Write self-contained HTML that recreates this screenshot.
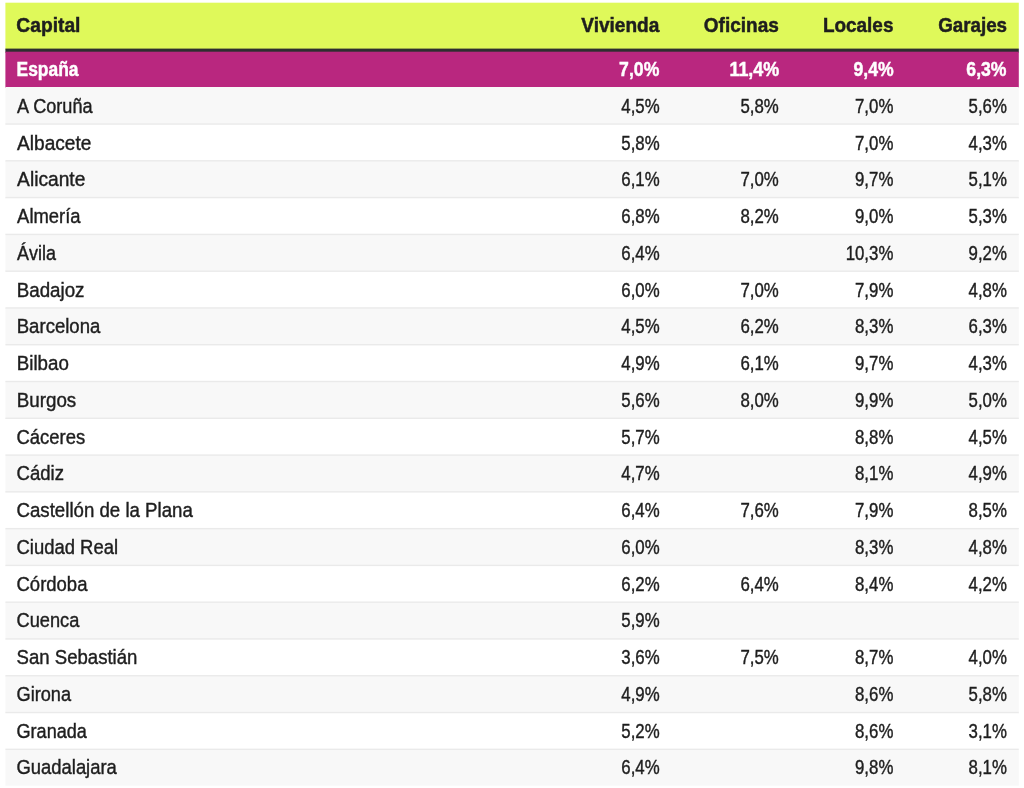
<!DOCTYPE html>
<html lang="es"><head><meta charset="utf-8"><title>Rentabilidad por capital</title>
<style>
html,body{margin:0;padding:0;background:#fff;}
body{width:1024px;height:788px;position:relative;overflow:hidden;font-family:"Liberation Sans",sans-serif;}
#w{position:absolute;left:0;top:0;width:1024px;height:788px;will-change:transform;}
.b{position:absolute;}
.t{position:absolute;white-space:nowrap;display:block;transform-origin:0 50%;line-height:24px;}
</style></head><body><div id="w">
<svg class="b" width="1024" height="788" viewBox="0 0 1024 788" style="left:0;top:0">
<rect x="5.4" y="2.70" width="1013.40" height="46.90" fill="#dff95a"/>
<rect x="5.4" y="48.60" width="1013.40" height="4.10" fill="#2e2e30"/>
<rect x="5.4" y="51.70" width="1013.40" height="36.30" fill="#b9277f"/>
<rect x="5.4" y="87.00" width="1013.40" height="38.25" fill="#f8f8f8"/>
<rect x="5.4" y="124.25" width="1013.40" height="37.78" fill="#ffffff"/>
<rect x="5.4" y="161.03" width="1013.40" height="37.78" fill="#f8f8f8"/>
<rect x="5.4" y="197.81" width="1013.40" height="37.78" fill="#ffffff"/>
<rect x="5.4" y="234.59" width="1013.40" height="37.78" fill="#f8f8f8"/>
<rect x="5.4" y="271.37" width="1013.40" height="37.78" fill="#ffffff"/>
<rect x="5.4" y="308.15" width="1013.40" height="37.78" fill="#f8f8f8"/>
<rect x="5.4" y="344.93" width="1013.40" height="37.78" fill="#ffffff"/>
<rect x="5.4" y="381.71" width="1013.40" height="37.78" fill="#f8f8f8"/>
<rect x="5.4" y="418.49" width="1013.40" height="37.78" fill="#ffffff"/>
<rect x="5.4" y="455.27" width="1013.40" height="37.78" fill="#f8f8f8"/>
<rect x="5.4" y="492.05" width="1013.40" height="37.78" fill="#ffffff"/>
<rect x="5.4" y="528.83" width="1013.40" height="37.78" fill="#f8f8f8"/>
<rect x="5.4" y="565.61" width="1013.40" height="37.78" fill="#ffffff"/>
<rect x="5.4" y="602.39" width="1013.40" height="37.78" fill="#f8f8f8"/>
<rect x="5.4" y="639.17" width="1013.40" height="37.78" fill="#ffffff"/>
<rect x="5.4" y="675.95" width="1013.40" height="37.78" fill="#f8f8f8"/>
<rect x="5.4" y="712.73" width="1013.40" height="37.78" fill="#ffffff"/>
<rect x="5.4" y="749.51" width="1013.40" height="36.19" fill="#f8f8f8"/>
<rect x="5.4" y="123.35" width="1013.40" height="1.40" fill="#eaeaea"/>
<rect x="5.4" y="160.13" width="1013.40" height="1.40" fill="#eaeaea"/>
<rect x="5.4" y="196.91" width="1013.40" height="1.40" fill="#eaeaea"/>
<rect x="5.4" y="233.69" width="1013.40" height="1.40" fill="#eaeaea"/>
<rect x="5.4" y="270.47" width="1013.40" height="1.40" fill="#eaeaea"/>
<rect x="5.4" y="307.25" width="1013.40" height="1.40" fill="#eaeaea"/>
<rect x="5.4" y="344.03" width="1013.40" height="1.40" fill="#eaeaea"/>
<rect x="5.4" y="380.81" width="1013.40" height="1.40" fill="#eaeaea"/>
<rect x="5.4" y="417.59" width="1013.40" height="1.40" fill="#eaeaea"/>
<rect x="5.4" y="454.37" width="1013.40" height="1.40" fill="#eaeaea"/>
<rect x="5.4" y="491.15" width="1013.40" height="1.40" fill="#eaeaea"/>
<rect x="5.4" y="527.93" width="1013.40" height="1.40" fill="#eaeaea"/>
<rect x="5.4" y="564.71" width="1013.40" height="1.40" fill="#eaeaea"/>
<rect x="5.4" y="601.49" width="1013.40" height="1.40" fill="#eaeaea"/>
<rect x="5.4" y="638.27" width="1013.40" height="1.40" fill="#eaeaea"/>
<rect x="5.4" y="675.05" width="1013.40" height="1.40" fill="#eaeaea"/>
<rect x="5.4" y="711.83" width="1013.40" height="1.40" fill="#eaeaea"/>
<rect x="5.4" y="748.61" width="1013.40" height="1.40" fill="#eaeaea"/>
</svg>
<span class="t" style="left:16px;top:13px;font-size:21.0px;color:#1e1e1e;transform:translateX(0.35px) scaleX(0.9150);font-weight:bold;-webkit-text-stroke:0.5px #1e1e1e;">Capital</span>
<span class="t" style="left:581px;top:13px;font-size:21.0px;color:#1e1e1e;transform:translateX(0.25px) scaleX(0.9084);font-weight:bold;-webkit-text-stroke:0.5px #1e1e1e;">Vivienda</span>
<span class="t" style="left:703px;top:13px;font-size:21.0px;color:#1e1e1e;transform:translateX(0.75px) scaleX(0.9065);font-weight:bold;-webkit-text-stroke:0.5px #1e1e1e;">Oficinas</span>
<span class="t" style="left:822px;top:13px;font-size:21.0px;color:#1e1e1e;transform:translateX(0.95px) scaleX(0.9010);font-weight:bold;-webkit-text-stroke:0.5px #1e1e1e;">Locales</span>
<span class="t" style="left:938px;top:13px;font-size:21.0px;color:#1e1e1e;transform:translateX(0.15px) scaleX(0.8942);font-weight:bold;-webkit-text-stroke:0.5px #1e1e1e;">Garajes</span>
<span class="t" style="left:16px;top:58px;font-size:19.3px;color:#fff;transform:translateX(0.57px) scaleX(0.9026);font-weight:bold;-webkit-text-stroke:0.45px #fff;">España</span>
<span class="t" style="left:619px;top:58px;font-size:19.3px;color:#fff;transform:translateX(0.12px) scaleX(0.9143);font-weight:bold;-webkit-text-stroke:0.45px #fff;">7,0%</span>
<span class="t" style="left:729px;top:58px;font-size:19.3px;color:#fff;transform:translateX(0.39px) scaleX(0.9311);font-weight:bold;-webkit-text-stroke:0.45px #fff;">11,4%</span>
<span class="t" style="left:853px;top:58px;font-size:19.3px;color:#fff;transform:translateX(0.52px) scaleX(0.9143);font-weight:bold;-webkit-text-stroke:0.45px #fff;">9,4%</span>
<span class="t" style="left:966px;top:58px;font-size:19.3px;color:#fff;transform:translateX(0.33px) scaleX(0.9143);font-weight:bold;-webkit-text-stroke:0.45px #fff;">6,3%</span>
<span class="t" style="left:17px;top:95px;font-size:19.3px;color:#1e1e1e;transform:translateX(0.10px) scaleX(0.9384);-webkit-text-stroke:0.4px #1e1e1e;">A Coruña</span>
<span class="t" style="left:621px;top:95px;font-size:19.3px;color:#1e1e1e;transform:translateX(0.30px) scaleX(0.8721);-webkit-text-stroke:0.4px #1e1e1e;">4,5%</span>
<span class="t" style="left:740px;top:95px;font-size:19.3px;color:#1e1e1e;transform:translateX(0.40px) scaleX(0.8721);-webkit-text-stroke:0.4px #1e1e1e;">5,8%</span>
<span class="t" style="left:854px;top:95px;font-size:19.3px;color:#1e1e1e;transform:translateX(1.00px) scaleX(0.8721);-webkit-text-stroke:0.4px #1e1e1e;">7,0%</span>
<span class="t" style="left:968px;top:95px;font-size:19.3px;color:#1e1e1e;transform:translateX(0.60px) scaleX(0.8721);-webkit-text-stroke:0.4px #1e1e1e;">5,6%</span>
<span class="t" style="left:17px;top:132px;font-size:19.3px;color:#1e1e1e;transform:translateX(0.10px) scaleX(0.9891);-webkit-text-stroke:0.4px #1e1e1e;">Albacete</span>
<span class="t" style="left:621px;top:132px;font-size:19.3px;color:#1e1e1e;transform:translateX(0.30px) scaleX(0.8721);-webkit-text-stroke:0.4px #1e1e1e;">5,8%</span>
<span class="t" style="left:854px;top:132px;font-size:19.3px;color:#1e1e1e;transform:translateX(1.00px) scaleX(0.8721);-webkit-text-stroke:0.4px #1e1e1e;">7,0%</span>
<span class="t" style="left:968px;top:132px;font-size:19.3px;color:#1e1e1e;transform:translateX(0.60px) scaleX(0.8721);-webkit-text-stroke:0.4px #1e1e1e;">4,3%</span>
<span class="t" style="left:17px;top:168px;font-size:19.3px;color:#1e1e1e;transform:translateX(0.10px) scaleX(0.9945);-webkit-text-stroke:0.4px #1e1e1e;">Alicante</span>
<span class="t" style="left:621px;top:168px;font-size:19.3px;color:#1e1e1e;transform:translateX(0.30px) scaleX(0.8721);-webkit-text-stroke:0.4px #1e1e1e;">6,1%</span>
<span class="t" style="left:740px;top:168px;font-size:19.3px;color:#1e1e1e;transform:translateX(0.40px) scaleX(0.8721);-webkit-text-stroke:0.4px #1e1e1e;">7,0%</span>
<span class="t" style="left:854px;top:168px;font-size:19.3px;color:#1e1e1e;transform:translateX(1.00px) scaleX(0.8721);-webkit-text-stroke:0.4px #1e1e1e;">9,7%</span>
<span class="t" style="left:968px;top:168px;font-size:19.3px;color:#1e1e1e;transform:translateX(0.60px) scaleX(0.8721);-webkit-text-stroke:0.4px #1e1e1e;">5,1%</span>
<span class="t" style="left:17px;top:205px;font-size:19.3px;color:#1e1e1e;transform:translateX(0.10px) scaleX(0.9549);-webkit-text-stroke:0.4px #1e1e1e;">Almería</span>
<span class="t" style="left:621px;top:205px;font-size:19.3px;color:#1e1e1e;transform:translateX(0.30px) scaleX(0.8721);-webkit-text-stroke:0.4px #1e1e1e;">6,8%</span>
<span class="t" style="left:740px;top:205px;font-size:19.3px;color:#1e1e1e;transform:translateX(0.40px) scaleX(0.8721);-webkit-text-stroke:0.4px #1e1e1e;">8,2%</span>
<span class="t" style="left:854px;top:205px;font-size:19.3px;color:#1e1e1e;transform:translateX(1.00px) scaleX(0.8721);-webkit-text-stroke:0.4px #1e1e1e;">9,0%</span>
<span class="t" style="left:968px;top:205px;font-size:19.3px;color:#1e1e1e;transform:translateX(0.60px) scaleX(0.8721);-webkit-text-stroke:0.4px #1e1e1e;">5,3%</span>
<span class="t" style="left:17px;top:242px;font-size:19.3px;color:#1e1e1e;transform:translateX(0.10px) scaleX(0.9318);-webkit-text-stroke:0.4px #1e1e1e;">Ávila</span>
<span class="t" style="left:621px;top:242px;font-size:19.3px;color:#1e1e1e;transform:translateX(0.30px) scaleX(0.8721);-webkit-text-stroke:0.4px #1e1e1e;">6,4%</span>
<span class="t" style="left:845px;top:242px;font-size:19.3px;color:#1e1e1e;transform:translateX(0.65px) scaleX(0.8721);-webkit-text-stroke:0.4px #1e1e1e;">10,3%</span>
<span class="t" style="left:968px;top:242px;font-size:19.3px;color:#1e1e1e;transform:translateX(0.60px) scaleX(0.8721);-webkit-text-stroke:0.4px #1e1e1e;">9,2%</span>
<span class="t" style="left:16px;top:279px;font-size:19.3px;color:#1e1e1e;transform:translateX(0.73px) scaleX(0.9715);-webkit-text-stroke:0.4px #1e1e1e;">Badajoz</span>
<span class="t" style="left:621px;top:279px;font-size:19.3px;color:#1e1e1e;transform:translateX(0.30px) scaleX(0.8721);-webkit-text-stroke:0.4px #1e1e1e;">6,0%</span>
<span class="t" style="left:740px;top:279px;font-size:19.3px;color:#1e1e1e;transform:translateX(0.40px) scaleX(0.8721);-webkit-text-stroke:0.4px #1e1e1e;">7,0%</span>
<span class="t" style="left:854px;top:279px;font-size:19.3px;color:#1e1e1e;transform:translateX(1.00px) scaleX(0.8721);-webkit-text-stroke:0.4px #1e1e1e;">7,9%</span>
<span class="t" style="left:968px;top:279px;font-size:19.3px;color:#1e1e1e;transform:translateX(0.60px) scaleX(0.8721);-webkit-text-stroke:0.4px #1e1e1e;">4,8%</span>
<span class="t" style="left:16px;top:315px;font-size:19.3px;color:#1e1e1e;transform:translateX(0.74px) scaleX(0.9628);-webkit-text-stroke:0.4px #1e1e1e;">Barcelona</span>
<span class="t" style="left:621px;top:315px;font-size:19.3px;color:#1e1e1e;transform:translateX(0.30px) scaleX(0.8721);-webkit-text-stroke:0.4px #1e1e1e;">4,5%</span>
<span class="t" style="left:740px;top:315px;font-size:19.3px;color:#1e1e1e;transform:translateX(0.40px) scaleX(0.8721);-webkit-text-stroke:0.4px #1e1e1e;">6,2%</span>
<span class="t" style="left:854px;top:315px;font-size:19.3px;color:#1e1e1e;transform:translateX(1.00px) scaleX(0.8721);-webkit-text-stroke:0.4px #1e1e1e;">8,3%</span>
<span class="t" style="left:968px;top:315px;font-size:19.3px;color:#1e1e1e;transform:translateX(0.60px) scaleX(0.8721);-webkit-text-stroke:0.4px #1e1e1e;">6,3%</span>
<span class="t" style="left:16px;top:352px;font-size:19.3px;color:#1e1e1e;transform:translateX(0.73px) scaleX(0.9716);-webkit-text-stroke:0.4px #1e1e1e;">Bilbao</span>
<span class="t" style="left:621px;top:352px;font-size:19.3px;color:#1e1e1e;transform:translateX(0.30px) scaleX(0.8721);-webkit-text-stroke:0.4px #1e1e1e;">4,9%</span>
<span class="t" style="left:740px;top:352px;font-size:19.3px;color:#1e1e1e;transform:translateX(0.40px) scaleX(0.8721);-webkit-text-stroke:0.4px #1e1e1e;">6,1%</span>
<span class="t" style="left:854px;top:352px;font-size:19.3px;color:#1e1e1e;transform:translateX(1.00px) scaleX(0.8721);-webkit-text-stroke:0.4px #1e1e1e;">9,7%</span>
<span class="t" style="left:968px;top:352px;font-size:19.3px;color:#1e1e1e;transform:translateX(0.60px) scaleX(0.8721);-webkit-text-stroke:0.4px #1e1e1e;">4,3%</span>
<span class="t" style="left:16px;top:389px;font-size:19.3px;color:#1e1e1e;transform:translateX(0.73px) scaleX(0.9739);-webkit-text-stroke:0.4px #1e1e1e;">Burgos</span>
<span class="t" style="left:621px;top:389px;font-size:19.3px;color:#1e1e1e;transform:translateX(0.30px) scaleX(0.8721);-webkit-text-stroke:0.4px #1e1e1e;">5,6%</span>
<span class="t" style="left:740px;top:389px;font-size:19.3px;color:#1e1e1e;transform:translateX(0.40px) scaleX(0.8721);-webkit-text-stroke:0.4px #1e1e1e;">8,0%</span>
<span class="t" style="left:854px;top:389px;font-size:19.3px;color:#1e1e1e;transform:translateX(1.00px) scaleX(0.8721);-webkit-text-stroke:0.4px #1e1e1e;">9,9%</span>
<span class="t" style="left:968px;top:389px;font-size:19.3px;color:#1e1e1e;transform:translateX(0.60px) scaleX(0.8721);-webkit-text-stroke:0.4px #1e1e1e;">5,0%</span>
<span class="t" style="left:16px;top:426px;font-size:19.3px;color:#1e1e1e;transform:translateX(0.50px) scaleX(0.9571);-webkit-text-stroke:0.4px #1e1e1e;">Cáceres</span>
<span class="t" style="left:621px;top:426px;font-size:19.3px;color:#1e1e1e;transform:translateX(0.30px) scaleX(0.8721);-webkit-text-stroke:0.4px #1e1e1e;">5,7%</span>
<span class="t" style="left:854px;top:426px;font-size:19.3px;color:#1e1e1e;transform:translateX(1.00px) scaleX(0.8721);-webkit-text-stroke:0.4px #1e1e1e;">8,8%</span>
<span class="t" style="left:968px;top:426px;font-size:19.3px;color:#1e1e1e;transform:translateX(0.60px) scaleX(0.8721);-webkit-text-stroke:0.4px #1e1e1e;">4,5%</span>
<span class="t" style="left:16px;top:462px;font-size:19.3px;color:#1e1e1e;transform:translateX(0.50px) scaleX(0.9619);-webkit-text-stroke:0.4px #1e1e1e;">Cádiz</span>
<span class="t" style="left:621px;top:462px;font-size:19.3px;color:#1e1e1e;transform:translateX(0.30px) scaleX(0.8721);-webkit-text-stroke:0.4px #1e1e1e;">4,7%</span>
<span class="t" style="left:854px;top:462px;font-size:19.3px;color:#1e1e1e;transform:translateX(1.00px) scaleX(0.8721);-webkit-text-stroke:0.4px #1e1e1e;">8,1%</span>
<span class="t" style="left:968px;top:462px;font-size:19.3px;color:#1e1e1e;transform:translateX(0.60px) scaleX(0.8721);-webkit-text-stroke:0.4px #1e1e1e;">4,9%</span>
<span class="t" style="left:16px;top:499px;font-size:19.3px;color:#1e1e1e;transform:translateX(0.50px) scaleX(0.9677);-webkit-text-stroke:0.4px #1e1e1e;">Castellón de la Plana</span>
<span class="t" style="left:621px;top:499px;font-size:19.3px;color:#1e1e1e;transform:translateX(0.30px) scaleX(0.8721);-webkit-text-stroke:0.4px #1e1e1e;">6,4%</span>
<span class="t" style="left:740px;top:499px;font-size:19.3px;color:#1e1e1e;transform:translateX(0.40px) scaleX(0.8721);-webkit-text-stroke:0.4px #1e1e1e;">7,6%</span>
<span class="t" style="left:854px;top:499px;font-size:19.3px;color:#1e1e1e;transform:translateX(1.00px) scaleX(0.8721);-webkit-text-stroke:0.4px #1e1e1e;">7,9%</span>
<span class="t" style="left:968px;top:499px;font-size:19.3px;color:#1e1e1e;transform:translateX(0.60px) scaleX(0.8721);-webkit-text-stroke:0.4px #1e1e1e;">8,5%</span>
<span class="t" style="left:16px;top:536px;font-size:19.3px;color:#1e1e1e;transform:translateX(0.50px) scaleX(0.9568);-webkit-text-stroke:0.4px #1e1e1e;">Ciudad Real</span>
<span class="t" style="left:621px;top:536px;font-size:19.3px;color:#1e1e1e;transform:translateX(0.30px) scaleX(0.8721);-webkit-text-stroke:0.4px #1e1e1e;">6,0%</span>
<span class="t" style="left:854px;top:536px;font-size:19.3px;color:#1e1e1e;transform:translateX(1.00px) scaleX(0.8721);-webkit-text-stroke:0.4px #1e1e1e;">8,3%</span>
<span class="t" style="left:968px;top:536px;font-size:19.3px;color:#1e1e1e;transform:translateX(0.60px) scaleX(0.8721);-webkit-text-stroke:0.4px #1e1e1e;">4,8%</span>
<span class="t" style="left:16px;top:573px;font-size:19.3px;color:#1e1e1e;transform:translateX(0.50px) scaleX(0.9591);-webkit-text-stroke:0.4px #1e1e1e;">Córdoba</span>
<span class="t" style="left:621px;top:573px;font-size:19.3px;color:#1e1e1e;transform:translateX(0.30px) scaleX(0.8721);-webkit-text-stroke:0.4px #1e1e1e;">6,2%</span>
<span class="t" style="left:740px;top:573px;font-size:19.3px;color:#1e1e1e;transform:translateX(0.40px) scaleX(0.8721);-webkit-text-stroke:0.4px #1e1e1e;">6,4%</span>
<span class="t" style="left:854px;top:573px;font-size:19.3px;color:#1e1e1e;transform:translateX(1.00px) scaleX(0.8721);-webkit-text-stroke:0.4px #1e1e1e;">8,4%</span>
<span class="t" style="left:968px;top:573px;font-size:19.3px;color:#1e1e1e;transform:translateX(0.60px) scaleX(0.8721);-webkit-text-stroke:0.4px #1e1e1e;">4,2%</span>
<span class="t" style="left:16px;top:609px;font-size:19.3px;color:#1e1e1e;transform:translateX(0.50px) scaleX(0.9455);-webkit-text-stroke:0.4px #1e1e1e;">Cuenca</span>
<span class="t" style="left:621px;top:609px;font-size:19.3px;color:#1e1e1e;transform:translateX(0.30px) scaleX(0.8721);-webkit-text-stroke:0.4px #1e1e1e;">5,9%</span>
<span class="t" style="left:16px;top:646px;font-size:19.3px;color:#1e1e1e;transform:translateX(0.50px) scaleX(0.9639);-webkit-text-stroke:0.4px #1e1e1e;">San Sebastián</span>
<span class="t" style="left:621px;top:646px;font-size:19.3px;color:#1e1e1e;transform:translateX(0.30px) scaleX(0.8721);-webkit-text-stroke:0.4px #1e1e1e;">3,6%</span>
<span class="t" style="left:740px;top:646px;font-size:19.3px;color:#1e1e1e;transform:translateX(0.40px) scaleX(0.8721);-webkit-text-stroke:0.4px #1e1e1e;">7,5%</span>
<span class="t" style="left:854px;top:646px;font-size:19.3px;color:#1e1e1e;transform:translateX(1.00px) scaleX(0.8721);-webkit-text-stroke:0.4px #1e1e1e;">8,7%</span>
<span class="t" style="left:968px;top:646px;font-size:19.3px;color:#1e1e1e;transform:translateX(0.60px) scaleX(0.8721);-webkit-text-stroke:0.4px #1e1e1e;">4,0%</span>
<span class="t" style="left:16px;top:683px;font-size:19.3px;color:#1e1e1e;transform:translateX(0.50px) scaleX(0.9424);-webkit-text-stroke:0.4px #1e1e1e;">Girona</span>
<span class="t" style="left:621px;top:683px;font-size:19.3px;color:#1e1e1e;transform:translateX(0.30px) scaleX(0.8721);-webkit-text-stroke:0.4px #1e1e1e;">4,9%</span>
<span class="t" style="left:854px;top:683px;font-size:19.3px;color:#1e1e1e;transform:translateX(1.00px) scaleX(0.8721);-webkit-text-stroke:0.4px #1e1e1e;">8,6%</span>
<span class="t" style="left:968px;top:683px;font-size:19.3px;color:#1e1e1e;transform:translateX(0.60px) scaleX(0.8721);-webkit-text-stroke:0.4px #1e1e1e;">5,8%</span>
<span class="t" style="left:16px;top:720px;font-size:19.3px;color:#1e1e1e;transform:translateX(0.50px) scaleX(0.9374);-webkit-text-stroke:0.4px #1e1e1e;">Granada</span>
<span class="t" style="left:621px;top:720px;font-size:19.3px;color:#1e1e1e;transform:translateX(0.30px) scaleX(0.8721);-webkit-text-stroke:0.4px #1e1e1e;">5,2%</span>
<span class="t" style="left:854px;top:720px;font-size:19.3px;color:#1e1e1e;transform:translateX(1.00px) scaleX(0.8721);-webkit-text-stroke:0.4px #1e1e1e;">8,6%</span>
<span class="t" style="left:968px;top:720px;font-size:19.3px;color:#1e1e1e;transform:translateX(0.60px) scaleX(0.8721);-webkit-text-stroke:0.4px #1e1e1e;">3,1%</span>
<span class="t" style="left:16px;top:756px;font-size:19.3px;color:#1e1e1e;transform:translateX(0.50px) scaleX(0.9551);-webkit-text-stroke:0.4px #1e1e1e;">Guadalajara</span>
<span class="t" style="left:621px;top:756px;font-size:19.3px;color:#1e1e1e;transform:translateX(0.30px) scaleX(0.8721);-webkit-text-stroke:0.4px #1e1e1e;">6,4%</span>
<span class="t" style="left:854px;top:756px;font-size:19.3px;color:#1e1e1e;transform:translateX(1.00px) scaleX(0.8721);-webkit-text-stroke:0.4px #1e1e1e;">9,8%</span>
<span class="t" style="left:968px;top:756px;font-size:19.3px;color:#1e1e1e;transform:translateX(0.60px) scaleX(0.8721);-webkit-text-stroke:0.4px #1e1e1e;">8,1%</span>
</div></body></html>
